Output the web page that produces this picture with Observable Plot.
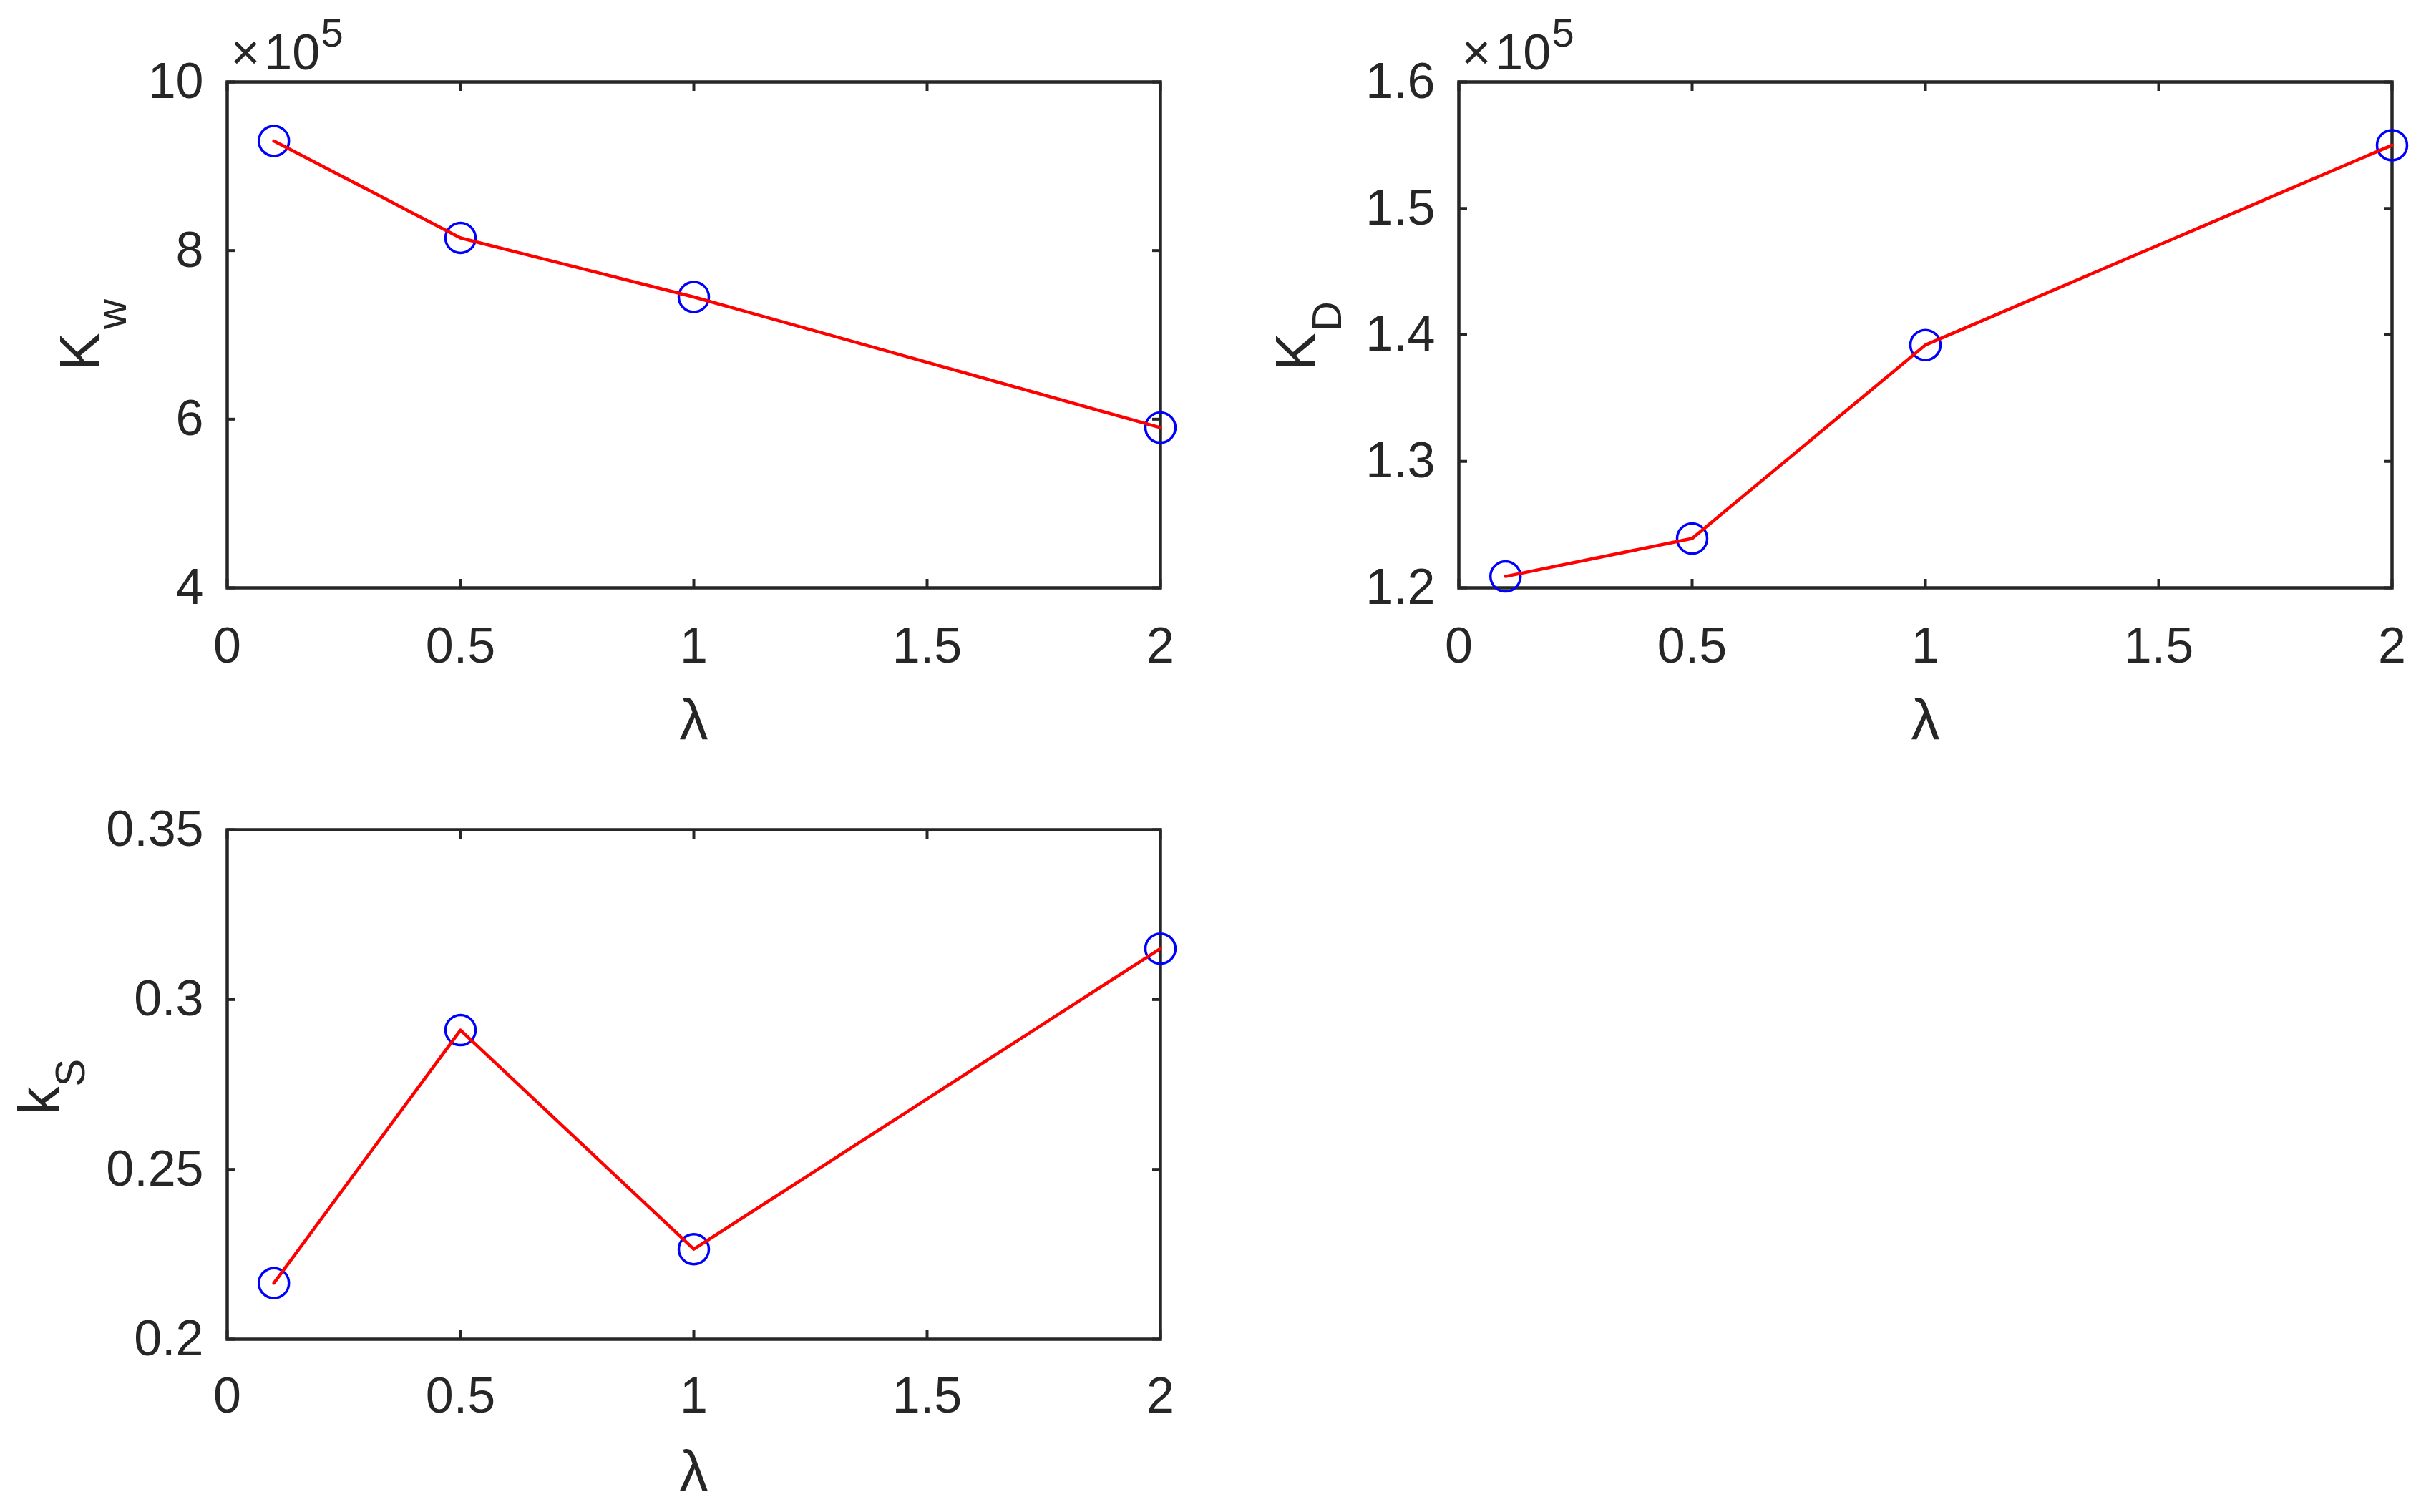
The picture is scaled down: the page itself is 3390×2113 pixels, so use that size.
<!DOCTYPE html>
<html>
<head>
<meta charset="utf-8">
<script src="https://cdn.jsdelivr.net/npm/d3@7"></script>
<script src="https://cdn.jsdelivr.net/npm/@observablehq/plot@0.6"></script>
<style>
html, body { margin: 0; padding: 0; background: #fff; }
#root { position: relative; width: 3390px; height: 2113px; background: #fff; overflow: hidden; }
#root svg { position: absolute; }
</style>
</head>
<body>
<div id="root"></div>
<script>
// ---- data ----
const lambda = [0.1, 0.5, 1, 2];
const Kw = [930000, 815000, 745000, 590000];
const KD = [120900, 123900, 139200, 155000];
const kS = [0.2165, 0.291, 0.2265, 0.315];

const xTicks = [0, 0.5, 1, 1.5, 2];
const xTickLabels = ["0", "0.5", "1", "1.5", "2"];
const yTicksKw = [400000, 600000, 800000, 1000000];
const yLabelsKw = ["4", "6", "8", "10"];
const yTicksKD = [120000, 130000, 140000, 150000, 160000];
const yLabelsKD = ["1.2", "1.3", "1.4", "1.5", "1.6"];
const yTicksKS = [0.2, 0.25, 0.3, 0.35];
const yLabelsKS = ["0.2", "0.25", "0.3", "0.35"];

const ink = "#262626";
const FONT = "'Liberation Sans', Arial, Helvetica, sans-serif";

function fmt(ticks, labels) {
  return d => { const i = ticks.findIndex(t => Math.abs(t - d) < 1e-9); return i >= 0 ? labels[i] : ""; };
}

function panel(o) {
  const data = lambda.map((x, i) => ({x, y: o.values[i]}));
  const marks = [
    Plot.frame({stroke: ink, strokeWidth: 4.5}),
    Plot.axisX(xTicks, {anchor: "bottom", tickSize: -12, tickPadding: o.xPad, tickFormat: fmt(xTicks, xTickLabels),
      stroke: ink, fill: ink, strokeWidth: 4, fontSize: 70, label: null}),
    Plot.axisX(xTicks, {anchor: "top", tickSize: -12, tickFormat: () => "", stroke: ink, strokeWidth: 4, label: null}),
    Plot.axisY(o.yTicks, {anchor: "left", tickSize: -12, tickPadding: 45, tickFormat: fmt(o.yTicks, o.yLabels),
      stroke: ink, fill: ink, strokeWidth: 4, fontSize: 70, label: null}),
    Plot.axisY(o.yTicks, {anchor: "right", tickSize: -12, tickFormat: () => "", stroke: ink, strokeWidth: 4, label: null}),
    Plot.dot(data, {x: "x", y: "y", r: 21, stroke: "#0000FF", strokeWidth: 3.5, fill: "none"}),
    Plot.line(data, {x: "x", y: "y", stroke: "#FF0000", strokeWidth: 4.5}),
    Plot.text(["λ"], {text: d => d, frameAnchor: "bottom", lineAnchor: "bottom", dy: 211, fontSize: 80, fill: ink}),
    Plot.text([o.main], {text: d => d, frameAnchor: "left", rotate: -90, textAnchor: "start", lineAnchor: "bottom",
      dx: o.mainDx, dy: o.mainDy, fontSize: 80, fill: ink}),
    Plot.text([o.sub], {text: d => d, frameAnchor: "left", rotate: -90, textAnchor: "start", lineAnchor: "bottom",
      dx: o.subDx, dy: o.subDy, fontSize: 58, fill: ink})
  ];
  if (o.note) {
    marks.push(
      Plot.text(["\u00d7\u200a10"], {text: d => d, frameAnchor: "top-left", textAnchor: "start", lineAnchor: "bottom",
        dx: o.noteDx, dy: -18, fontSize: 70, fill: ink}),
      Plot.text(["5"], {text: d => d, frameAnchor: "top-left", textAnchor: "start", lineAnchor: "bottom",
        dx: o.expDx, dy: -50, fontSize: 56, fill: ink})
    );
  }
  const svg = Plot.plot({
    width: o.width, height: o.height,
    marginTop: o.mt, marginRight: o.mr, marginBottom: o.mb, marginLeft: o.ml,
    x: {domain: [0, 2]},
    y: {domain: o.yDomain},
    style: {fontFamily: FONT, color: ink, background: "transparent", overflow: "visible"},
    marks
  });
  svg.style.left = o.left + "px";
  svg.style.top = o.top + "px";
  document.getElementById("root").appendChild(svg);
}

panel({left: 0, top: 0, width: 1695, height: 1056, mt: 114, mr: 74, mb: 235, ml: 317,
  values: Kw, yDomain: [400000, 1000000], yTicks: yTicksKw, yLabels: yLabelsKw, xPad: 67,
  main: "K", sub: "w", mainDx: -179, mainDy: 50, subDx: -142, subDy: -8,
  note: true, noteDx: 5, expDx: 131});

panel({left: 1695, top: 0, width: 1695, height: 1056, mt: 114, mr: 48, mb: 235, ml: 343,
  values: KD, yDomain: [120000, 160000], yTicks: yTicksKD, yLabels: yLabelsKD, xPad: 67,
  main: "K", sub: "D", mainDx: -201, mainDy: 50, subDx: -165, subDy: -5,
  note: true, noteDx: 4, expDx: 130});

panel({left: 0, top: 1056, width: 1695, height: 1057, mt: 103, mr: 74, mb: 242, ml: 317,
  values: kS, yDomain: [0.2, 0.35], yTicks: yTicksKS, yLabels: yLabelsKS, xPad: 65,
  main: "k", sub: "S", mainDx: -236, mainDy: 43, subDx: -200, subDy: 3,
  note: false});
</script>
</body>
</html>
